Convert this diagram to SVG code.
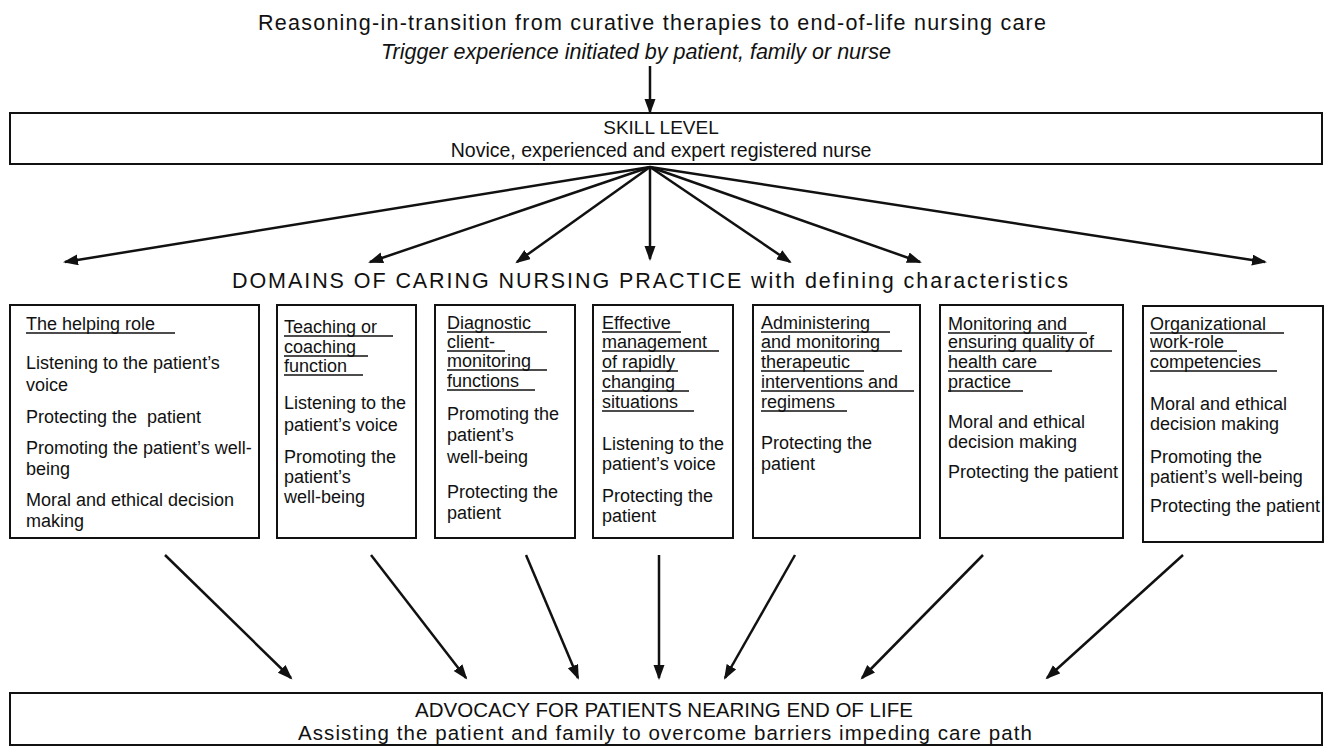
<svg xmlns="http://www.w3.org/2000/svg" width="1330" height="746" viewBox="0 0 1330 746">
<defs>
<style>
text{font-family:"Liberation Sans",Arial,sans-serif;fill:#111;}
.t{font-size:19px;}
.b{font-size:18px;}
.box{fill:#fff;stroke:#111;stroke-width:2;}
.ul{stroke:#111;stroke-width:1.5;}
.c{stroke:#111;stroke-width:2.5;fill:none;marker-end:url(#ah);}
</style>
<marker id="ah" markerUnits="userSpaceOnUse" markerWidth="16" markerHeight="12" refX="13" refY="5.5" orient="auto">
<path d="M0,0 L15,5.5 L0,11 z" fill="#111"/>
</marker>
</defs>
<rect width="1330" height="746" fill="#fff"/>

<g id="title">
<text x="258" y="30" font-size="21.5" textLength="788" lengthAdjust="spacing">Reasoning-in-transition from curative therapies to end-of-life nursing care</text>
<text x="636" y="59" font-size="21.5" text-anchor="middle" font-style="italic">Trigger experience initiated by patient, family or nurse</text>
</g>

<g id="skill">
<rect class="box" x="10" y="113" width="1312" height="51"/>
<text class="t" x="661" y="134" text-anchor="middle">SKILL LEVEL</text>
<text x="661" y="157" font-size="19.5" text-anchor="middle">Novice, experienced and expert registered nurse</text>
</g>

<g id="domains-label">
<text x="232" y="288" font-size="21.5" textLength="836" lengthAdjust="spacing">DOMAINS OF CARING NURSING PRACTICE with defining characteristics</text>
</g>

<g id="d1">
<rect class="box" x="10" y="305" width="249" height="233"/>
<text class="b" x="26" y="330">The helping role</text>
<line class="ul" x1="26" y1="333" x2="175" y2="333"/>
<text class="b" x="26"><tspan x="26" y="369">Listening to the patient’s</tspan><tspan x="26" y="391">voice</tspan><tspan x="26" y="423" xml:space="preserve">Protecting the  patient</tspan><tspan x="26" y="454">Promoting the patient’s well-</tspan><tspan x="26" y="475">being</tspan><tspan x="26" y="506">Moral and ethical decision</tspan><tspan x="26" y="527">making</tspan></text>
</g>

<g id="d2">
<rect class="box" x="277" y="305" width="139" height="233"/>
<text class="b"><tspan x="284" y="333">Teaching or</tspan><tspan x="284" y="353">coaching</tspan><tspan x="284" y="372">function</tspan></text>
<line class="ul" x1="284" y1="336" x2="393" y2="336"/>
<line class="ul" x1="284" y1="356" x2="368" y2="356"/>
<line class="ul" x1="284" y1="375" x2="363" y2="375"/>
<text class="b"><tspan x="284" y="409">Listening to the</tspan><tspan x="284" y="431">patient’s voice</tspan><tspan x="284" y="463">Promoting the</tspan><tspan x="284" y="483">patient’s</tspan><tspan x="284" y="503">well-being</tspan></text>
</g>

<g id="d3">
<rect class="box" x="435" y="305" width="140" height="233"/>
<text class="b"><tspan x="447" y="329">Diagnostic</tspan><tspan x="447" y="348">client-</tspan><tspan x="447" y="367">monitoring</tspan><tspan x="447" y="387">functions</tspan></text>
<line class="ul" x1="447" y1="332" x2="547" y2="332"/>
<line class="ul" x1="447" y1="351" x2="505" y2="351"/>
<line class="ul" x1="447" y1="370" x2="547" y2="370"/>
<line class="ul" x1="447" y1="390" x2="535" y2="390"/>
<text class="b"><tspan x="447" y="420">Promoting the</tspan><tspan x="447" y="441">patient’s</tspan><tspan x="447" y="463">well-being</tspan><tspan x="447" y="498">Protecting the</tspan><tspan x="447" y="519">patient</tspan></text>
</g>

<g id="d4">
<rect class="box" x="593" y="305" width="140" height="233"/>
<text class="b"><tspan x="602" y="329">Effective</tspan><tspan x="602" y="348">management</tspan><tspan x="602" y="368">of rapidly</tspan><tspan x="602" y="388">changing</tspan><tspan x="602" y="408">situations</tspan></text>
<line class="ul" x1="602" y1="332" x2="681" y2="332"/>
<line class="ul" x1="602" y1="351" x2="719" y2="351"/>
<line class="ul" x1="602" y1="371" x2="678" y2="371"/>
<line class="ul" x1="602" y1="391" x2="689" y2="391"/>
<line class="ul" x1="602" y1="411" x2="694" y2="411"/>
<text class="b"><tspan x="602" y="450">Listening to the</tspan><tspan x="602" y="470">patient’s voice</tspan><tspan x="602" y="502">Protecting the</tspan><tspan x="602" y="522">patient</tspan></text>
</g>

<g id="d5">
<rect class="box" x="753" y="305" width="167" height="233"/>
<text class="b"><tspan x="761" y="329">Administering</tspan><tspan x="761" y="348">and monitoring</tspan><tspan x="761" y="368">therapeutic</tspan><tspan x="761" y="388">interventions and</tspan><tspan x="761" y="408">regimens</tspan></text>
<line class="ul" x1="761" y1="332" x2="890" y2="332"/>
<line class="ul" x1="761" y1="351" x2="902" y2="351"/>
<line class="ul" x1="761" y1="371" x2="864" y2="371"/>
<line class="ul" x1="761" y1="391" x2="914" y2="391"/>
<line class="ul" x1="761" y1="411" x2="847" y2="411"/>
<text class="b"><tspan x="761" y="449">Protecting the</tspan><tspan x="761" y="470">patient</tspan></text>
</g>

<g id="d6">
<rect class="box" x="940" y="305" width="183" height="233"/>
<text class="b"><tspan x="948" y="330">Monitoring and</tspan><tspan x="948" y="348">ensuring quality of</tspan><tspan x="948" y="368">health care</tspan><tspan x="948" y="388">practice</tspan></text>
<line class="ul" x1="948" y1="333" x2="1087" y2="333"/>
<line class="ul" x1="948" y1="351" x2="1112" y2="351"/>
<line class="ul" x1="948" y1="371" x2="1052" y2="371"/>
<line class="ul" x1="948" y1="391" x2="1023" y2="391"/>
<text class="b"><tspan x="948" y="428">Moral and ethical</tspan><tspan x="948" y="448">decision making</tspan><tspan x="948" y="478">Protecting the patient</tspan></text>
</g>

<g id="d7">
<rect class="box" x="1143" y="306" width="180" height="236"/>
<text class="b"><tspan x="1150" y="330">Organizational</tspan><tspan x="1150" y="348">work-role</tspan><tspan x="1150" y="368">competencies</tspan></text>
<line class="ul" x1="1150" y1="333" x2="1284" y2="333"/>
<line class="ul" x1="1150" y1="351" x2="1237" y2="351"/>
<line class="ul" x1="1150" y1="371" x2="1277" y2="371"/>
<text class="b"><tspan x="1150" y="410">Moral and ethical</tspan><tspan x="1150" y="430">decision making</tspan><tspan x="1150" y="463">Promoting the</tspan><tspan x="1150" y="483">patient’s well-being</tspan><tspan x="1150" y="512">Protecting the patient</tspan></text>
</g>

<g id="advocacy">
<rect class="box" x="10" y="693" width="1312" height="52"/>
<text x="664" y="717" font-size="20.5" text-anchor="middle">ADVOCACY FOR PATIENTS NEARING END OF LIFE</text>
<text x="298" y="740" font-size="20.5" textLength="734" lengthAdjust="spacing">Assisting the patient and family to overcome barriers impeding care path</text>
</g>

<g id="connectors">
<line class="c" x1="650" y1="66" x2="650" y2="112"/>
<line class="c" x1="650" y1="167" x2="65" y2="262"/>
<line class="c" x1="650" y1="167" x2="370" y2="262"/>
<line class="c" x1="650" y1="167" x2="517" y2="262"/>
<line class="c" x1="650" y1="167" x2="650" y2="259"/>
<line class="c" x1="650" y1="167" x2="790" y2="262"/>
<line class="c" x1="650" y1="167" x2="920" y2="262"/>
<line class="c" x1="650" y1="167" x2="1265" y2="262"/>
<line class="c" x1="165" y1="555" x2="291" y2="678"/>
<line class="c" x1="371" y1="555" x2="466" y2="678"/>
<line class="c" x1="526" y1="555" x2="578" y2="678"/>
<line class="c" x1="659" y1="555" x2="659" y2="678"/>
<line class="c" x1="795" y1="555" x2="725" y2="678"/>
<line class="c" x1="983" y1="555" x2="862" y2="678"/>
<line class="c" x1="1183" y1="555" x2="1047" y2="678"/>
</g>
</svg>
